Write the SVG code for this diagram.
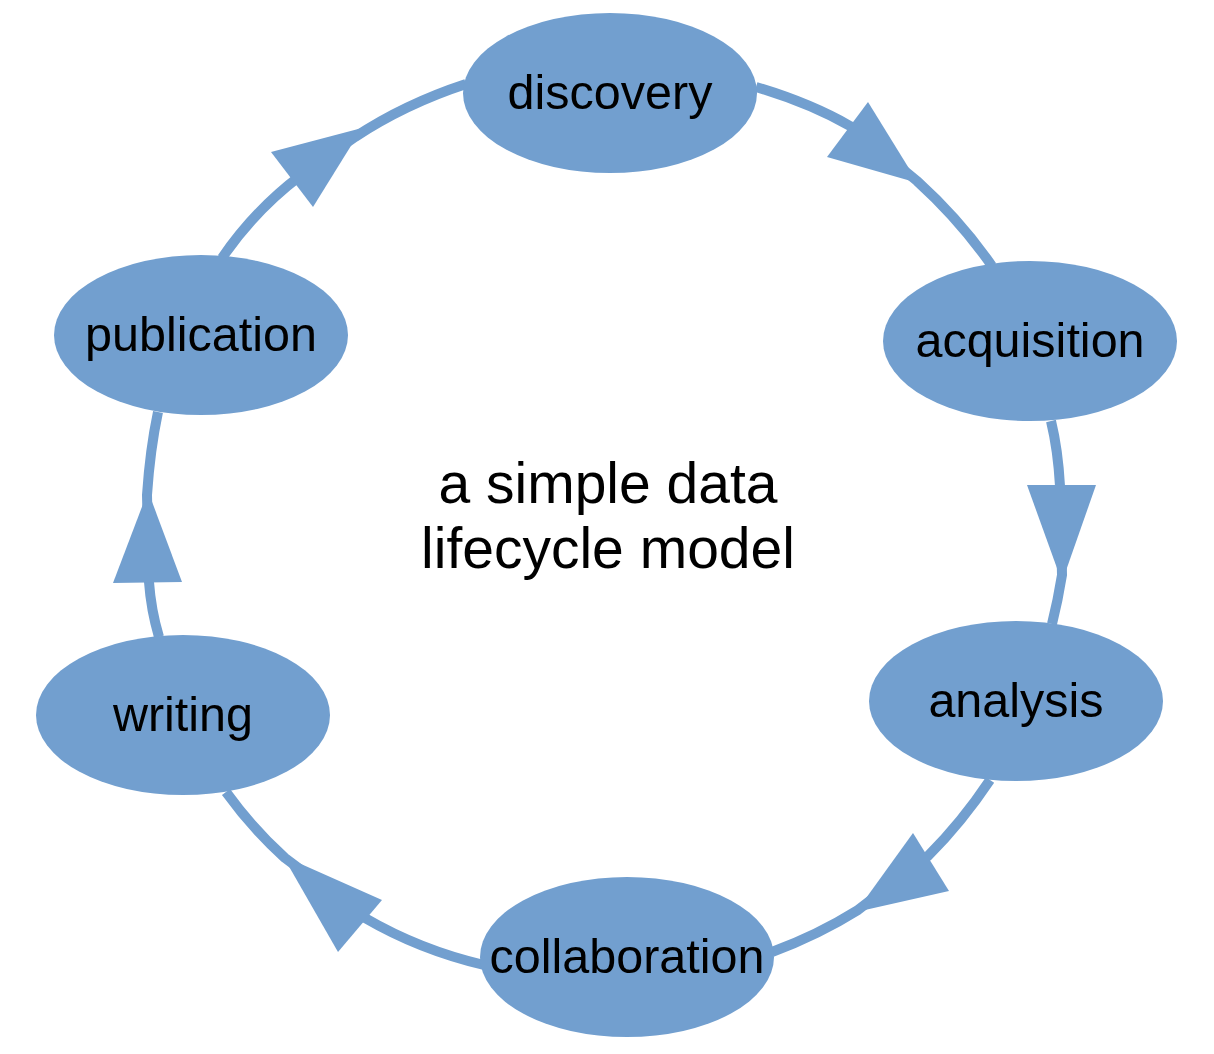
<svg xmlns="http://www.w3.org/2000/svg" width="1214" height="1054" viewBox="0 0 1214 1054">
<style>
.node ellipse{fill:#729fcf;stroke:none}
.node text{font-family:"Liberation Sans",Arial,sans-serif;font-size:48.5px;fill:#000;text-anchor:middle}
.edge path{fill:none;stroke:#729fcf;stroke-width:10}
.edge polygon{fill:#729fcf;stroke:none}
.title{font-family:"Liberation Sans",Arial,sans-serif;font-size:57px;fill:#000;text-anchor:middle}
</style>
<rect width="1214" height="1054" fill="#fff"/>
<g id="edges">
<g class="edge" id="e1"><path d="M222,258 Q255,210 300,176 L355,137 Q405,104 466,84"/><polygon points="271,152 313,207 362,128"/></g>
<g class="edge" id="e2"><path d="M756,87 Q810,103 850,126 L917,181 Q960,220 992,266"/><polygon points="868,102 827,157 918,183"/></g>
<g class="edge" id="e3"><path d="M1051,421 Q1058,450 1060,486 L1062,575 Q1058,600 1052,624"/><polygon points="1027,485 1096,485 1062,582"/></g>
<g class="edge" id="e4"><path d="M990,780 Q962,822 928,856 L858,910 Q818,935 772,952"/><polygon points="913,833 949,891 856,912"/></g>
<g class="edge" id="e5"><path d="M484,965 Q420,950 365,918 L285,858 Q252,828 226,792"/><polygon points="382,900 338,952 283,856"/></g>
<g class="edge" id="e6"><path d="M159,637 Q151,610 149,582 L147,495 Q150,450 158,412"/><polygon points="113,583 182,582 148,491"/></g>
</g>
<g class="node" id="discovery"><ellipse cx="610" cy="93" rx="147" ry="80"/><text x="610" y="109">discovery</text></g>
<g class="node" id="acquisition"><ellipse cx="1030" cy="341" rx="147" ry="80"/><text x="1030" y="357">acquisition</text></g>
<g class="node" id="analysis"><ellipse cx="1016" cy="701" rx="147" ry="80"/><text x="1016" y="717">analysis</text></g>
<g class="node" id="collaboration"><ellipse cx="627" cy="957" rx="147" ry="80"/><text x="627" y="973">collaboration</text></g>
<g class="node" id="writing"><ellipse cx="183" cy="715" rx="147" ry="80"/><text x="183" y="731">writing</text></g>
<g class="node" id="publication"><ellipse cx="201" cy="335" rx="147" ry="80"/><text x="201" y="351">publication</text></g>
<g id="label"><text class="title" x="608" y="503">a simple data</text><text class="title" x="608" y="568">lifecycle model</text></g>
</svg>
